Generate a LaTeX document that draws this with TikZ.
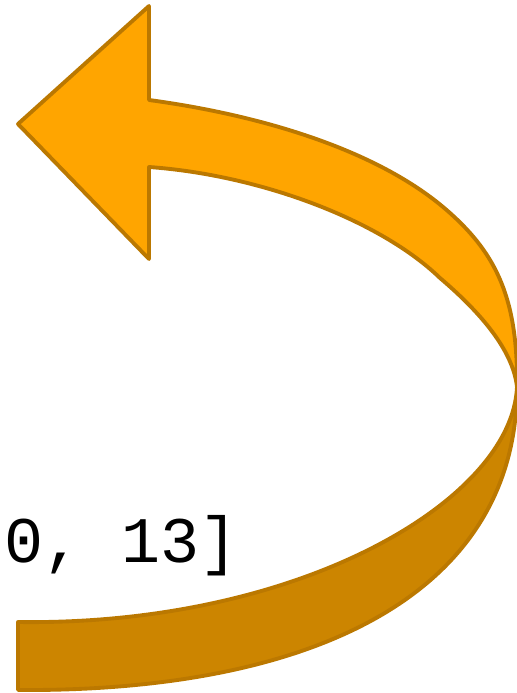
\documentclass[tikz,border=0pt]{standalone}
\usepackage{fontspec}
\setmonofont{Liberation Mono}
\definecolor{arrowtop}{HTML}{FFA500}
\definecolor{arrowback}{HTML}{CC8500}
\definecolor{arrowrim}{HTML}{BB7800}
\begin{document}
\begin{tikzpicture}[x=0.02cm,y=-0.02cm,line join=round,
  rim/.style={draw=arrowrim,line width=2.2pt}]
\useasboundingbox (0,0) rectangle (517,693);
% head of the arrow
\coordinate (tip) at (18,124);
\coordinate (hu) at (149,6);
\coordinate (hd) at (149,259);
\coordinate (nu) at (149,100);
\coordinate (nd) at (149,167);
% bend points, turning point and tail
\coordinate (ou) at (450,213);
\coordinate (iu) at (440,278);
\coordinate (turn) at (517,387);
\coordinate (tu) at (18,622);
\coordinate (td) at (18,690);
% back side of the band
\filldraw[rim,fill=arrowback] (turn)
  .. controls (517,590) and (320,692) .. (td) -- (tu)
  .. controls (300,626) and (512,500) .. (turn) -- cycle;
% front side with the head
\filldraw[rim,fill=arrowtop] (tip) -- (hu) -- (nu)
  .. controls (260,115) and (380,150) .. (ou)
  .. controls (497,255) and (518,300) .. (turn)
  .. controls (513,350) and (480,312) .. (iu)
  .. controls (380,220) and (260,175) .. (nd)
  -- (hd) -- cycle;
\node[anchor=base west,inner sep=0pt,font=\ttfamily\fontsize{37}{40}\selectfont] (rng) at (4,562) {0, 13]};
\end{tikzpicture}
\end{document}
